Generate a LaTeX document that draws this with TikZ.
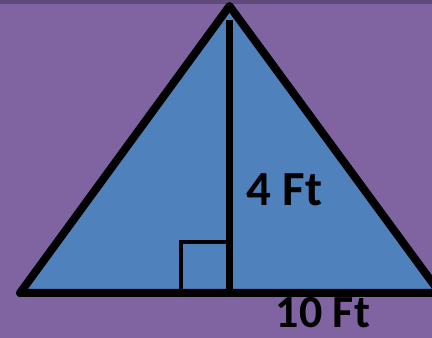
\documentclass[tikz,border=0pt]{standalone}
\usepackage{fontspec}
\setmainfont{Carlito}
\usetikzlibrary{positioning,calc}
\definecolor{bgpurple}{HTML}{8064A2}
\definecolor{toppurple}{HTML}{5F497A}
\definecolor{triblue}{HTML}{4F81BD}

\begin{document}
\begin{tikzpicture}[x=1pt, y=1pt]
    \useasboundingbox (0,0) rectangle (432,338);
    \clip (0,0) rectangle (432,338);
    \fill[bgpurple] (0,0) rectangle (432,338);
    \fill[toppurple] (0,334) rectangle (432,338);
    % triangle corners
    \coordinate (apex) at (229.5,332);
    \coordinate (left) at (20,45);
    \coordinate (right) at (440,45);
    \coordinate (foot) at (229.5,45);
    \coordinate (top) at (229.5,318);
    \draw[triblue, fill=triblue] (left) -- (apex) -- (right) -- cycle;
    \draw[line width=4pt] (181,45) rectangle (229.5,96);
    \draw[line width=7pt] (top) -- (foot);
    \draw[line width=8pt, line join=round] (left) -- (apex) -- (right) -- cycle;
    \node[inner sep=0pt, font=\bfseries\fontsize{49}{49}\selectfont] (height) at (284.5,148) {4 Ft};
    \node[inner sep=0pt, anchor=base, font=\bfseries\fontsize{46}{46}\selectfont] (base) at (323,10.3) {10 Ft};
  \end{tikzpicture}
\end{document}
